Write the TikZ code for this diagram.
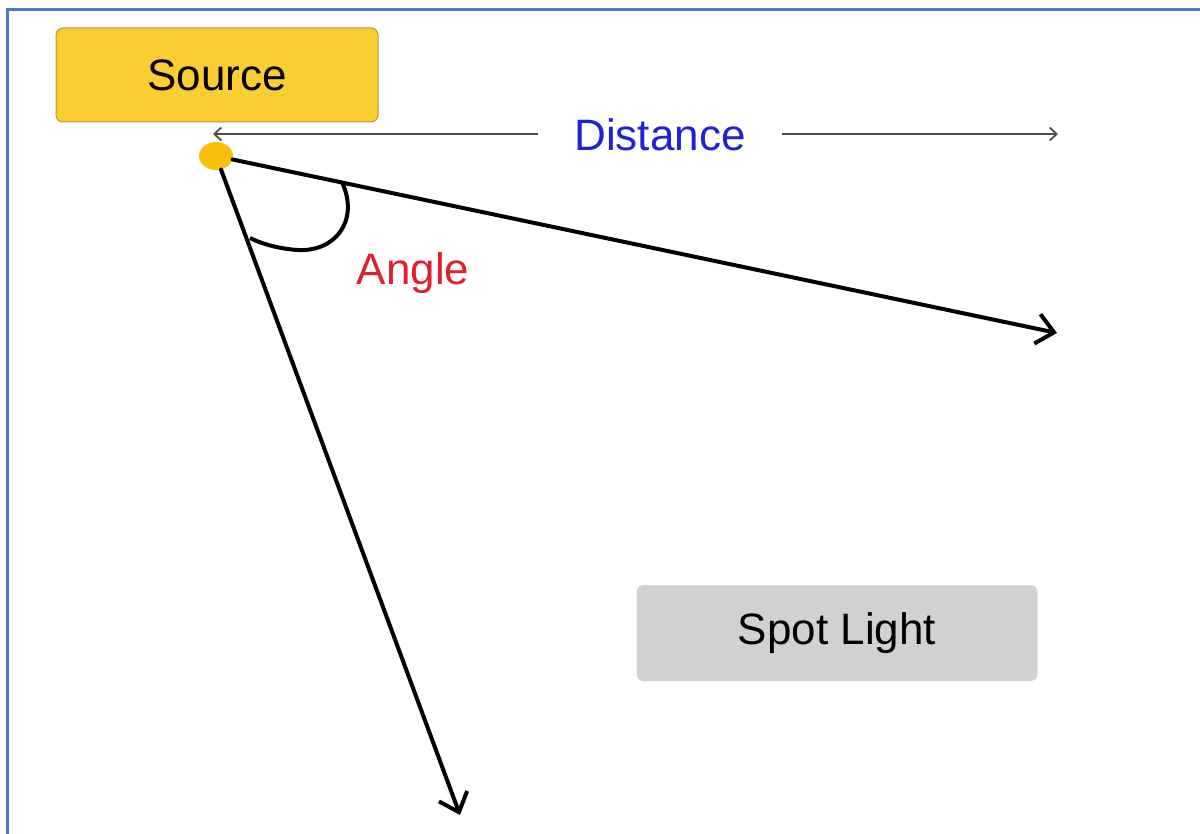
\documentclass[tikz,border=0pt]{standalone}
\usepackage{fontspec}
\setmainfont{Liberation Sans}
\usepackage{xcolor}
\usetikzlibrary{arrows.meta,shapes.geometric}

\definecolor{srcfill}{HTML}{FBCD33}
\definecolor{srcline}{HTML}{B8962E}
\definecolor{dotfill}{HTML}{F8C008}
\definecolor{spotfill}{HTML}{D1D1D1}
\definecolor{distblue}{HTML}{2020D8}
\definecolor{anglered}{HTML}{E0202E}
\definecolor{frameblue}{HTML}{4A78CC}
\definecolor{distgray}{HTML}{4D4D4D}

\begin{document}
\begin{tikzpicture}[
  x=1pt, y=-1pt,
  box/.style={rounded corners=7pt, align=center, font=\fontsize{44}{50}\selectfont},
  label/.style={font=\fontsize{44}{50}\selectfont},
  ray/.style={-{Straight Barb[length=17pt, width=30pt, line width=4pt]}, line width=4pt, line cap=round},
  span/.style={-{Straight Barb[length=7pt, width=13pt, line width=1.8pt]}, line width=1.8pt, distgray}
]
\useasboundingbox (0,0) rectangle (1200,834);
\draw[frameblue, line width=3pt] (7,834) -- (7,10) -- (1200,10);

\node[box, fill=srcfill, draw=srcline, line width=1pt, minimum width=322pt, minimum height=94pt] (source) at (217,75) {Source};
\node[box, fill=spotfill, minimum width=401pt, minimum height=96pt] (spot) at (837,633) {Spot Light};

\node[label, text=distblue, inner xsep=36pt] (dist) at (660,135) {Distance};
\coordinate (distL) at (213,134);
\coordinate (distR) at (1058,134);
\draw[span] (dist.west |- distL) -- (distL);
\draw[span] (dist.east |- distR) -- (distR);

\node[label, text=anglered] (angle) at (413,273) {Angle};

\node[ellipse, fill=dotfill, minimum width=34pt, minimum height=28pt, inner sep=0pt] (src) at (216,156) {};
\coordinate (ray1) at (1057,333);
\coordinate (ray2) at (460,815);
\draw[ray] (src) -- (ray1);
\draw[ray] (src) -- (ray2);
\draw[line width=4pt] (342,182) .. controls (360,222) and (334,252) .. (298,250)
  .. controls (280,249) and (262,244) .. (250,238);
\end{tikzpicture}
\end{document}
